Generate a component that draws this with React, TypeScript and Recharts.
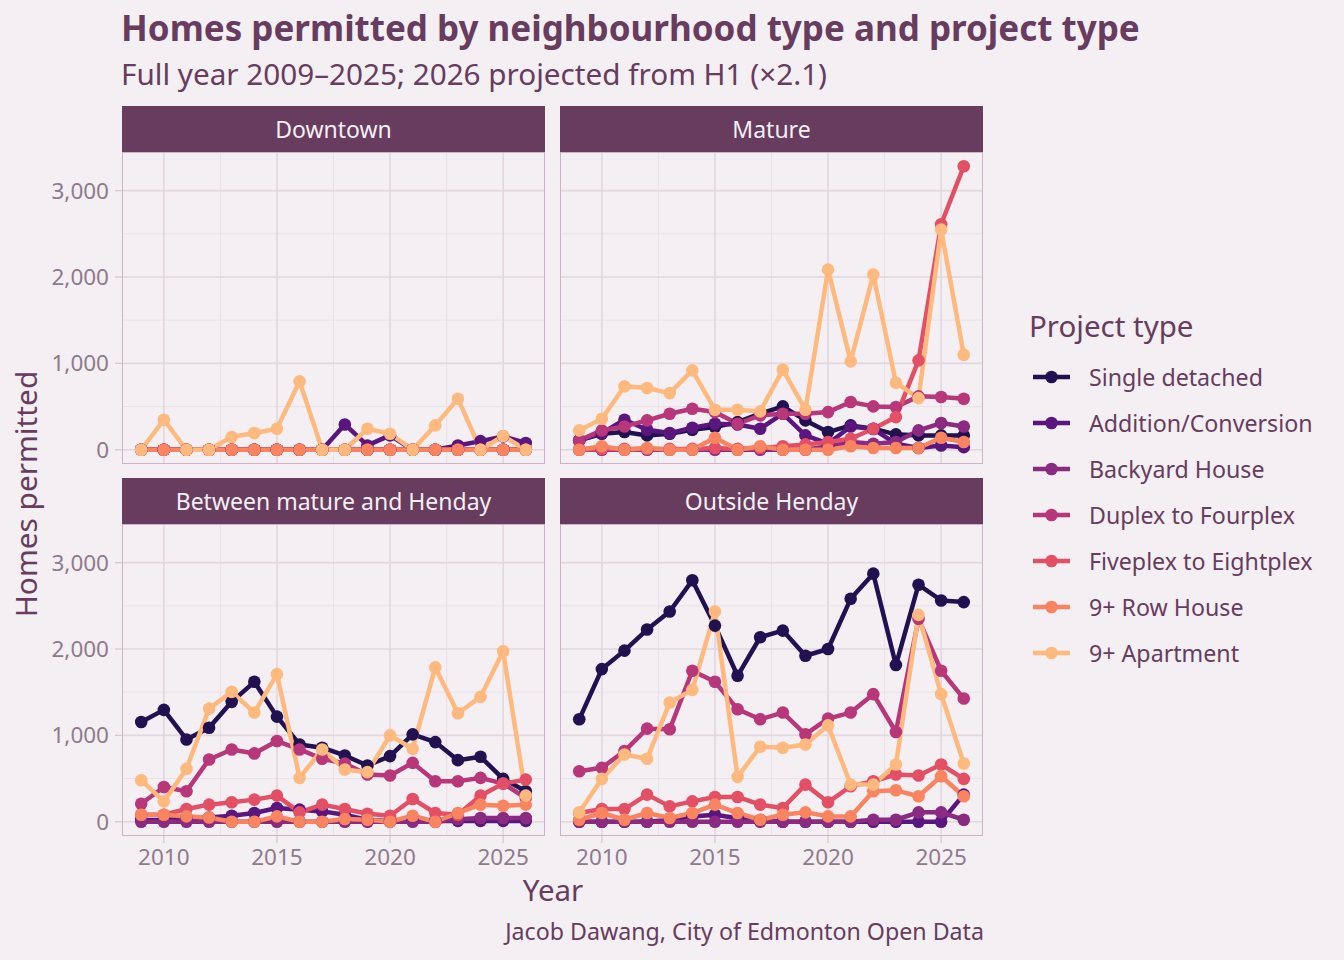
import React from "react";
import { LineChart, Line, XAxis, YAxis, CartesianGrid } from "recharts";

// ---------- data ----------
const years = [2009, 2010, 2011, 2012, 2013, 2014, 2015, 2016, 2017, 2018, 2019, 2020, 2021, 2022, 2023, 2024, 2025, 2026];

const seriesNames = ["Single detached", "Addition/Conversion", "Backyard House", "Duplex to Fourplex", "Fiveplex to Eightplex", "9+ Row House", "9+ Apartment"];
const seriesColors = ["#221150", "#5A167E", "#8A2A80", "#B8377A", "#E34F65", "#F98460", "#FEB97E"];

const panelTitles = ["Downtown", "Mature", "Between mature and Henday", "Outside Henday"];

const xTicks = [2010, 2015, 2020, 2025];
const xMinor = [2012.5, 2017.5, 2022.5];
const yTicks = [0, 1000, 2000, 3000];
const yMinor = [500, 1500, 2500];

// Downtown
const dtSingle = [0, 0, 0, 0, 0, 0, 0, 0, 0, 0, 0, 0, 0, 0, 0, 0, 0, 0];
const dtAddition = [0, 0, 0, 0, 0, 0, 0, 0, 0, 293, 50, 166, 0, 0, 50, 100, 155, 78];
const dtBackyard = [0, 0, 0, 0, 0, 0, 0, 0, 0, 0, 0, 0, 0, 0, 0, 0, 0, 0];
const dtDuplex = [0, 0, 0, 0, 0, 0, 0, 0, 0, 0, 0, 0, 0, 0, 0, 0, 0, 0];
const dtFiveplex = [0, 0, 0, 0, 0, 0, 0, 0, 0, 0, 0, 0, 0, 0, 0, 0, 0, 0];
const dtRow = [0, 0, 0, 0, 0, 0, 0, 0, 0, 0, 0, 0, 0, 0, 0, 0, 0, 0];
const dtApartment = [0, 347, 0, 0, 147, 193, 243, 792, 0, 0, 243, 185, 0, 282, 591, 0, 159, 0];

// Mature
const maSingle = [108, 185, 205, 166, 185, 232, 263, 320, 417, 502, 340, 205, 282, 243, 178, 166, 166, 166];
const maAddition = [108, 193, 347, 232, 193, 255, 301, 293, 243, 417, 166, 70, 270, 240, 70, 20, 50, 30];
const maBackyard = [0, 0, 0, 0, 0, 0, 0, 0, 0, 0, 0, 40, 89, 70, 89, 224, 309, 270];
const maDuplex = [108, 224, 270, 340, 417, 475, 436, 301, 398, 417, 417, 436, 552, 502, 494, 618, 610, 591];
const maFiveplex = [0, 10, 10, 10, 10, 10, 20, 10, 20, 40, 62, 89, 127, 243, 378, 1035, 2610, 3282];
const maRow = [0, 40, 0, 20, 0, 0, 139, 0, 40, 0, 0, 0, 40, 20, 20, 20, 139, 89];
const maApartment = [224, 359, 734, 714, 656, 919, 463, 463, 444, 927, 463, 2085, 1023, 2027, 776, 598, 2548, 1100];

// Between mature and Henday
const bmSingle = [1155, 1295, 953, 1089, 1388, 1620, 1217, 895, 857, 767, 651, 760, 1012, 922, 713, 752, 496, 353];
const bmAddition = [20, 20, 43, 50, 70, 101, 159, 140, 120, 81, 20, 10, 10, 10, 10, 10, 10, 10];
const bmBackyard = [0, 0, 0, 0, 0, 0, 0, 0, 0, 0, 0, 0, 0, 0, 30, 43, 43, 43];
const bmDuplex = [209, 403, 353, 721, 837, 791, 934, 837, 729, 674, 547, 535, 682, 469, 469, 508, 442, 275];
const bmFiveplex = [81, 81, 147, 198, 225, 256, 302, 109, 198, 147, 93, 70, 264, 101, 81, 302, 442, 488];
const bmRow = [81, 81, 62, 50, 0, 0, 62, 0, 0, 31, 23, 0, 70, 0, 101, 198, 186, 198];
const bmApartment = [481, 236, 612, 1310, 1504, 1264, 1709, 508, 837, 605, 574, 1000, 845, 1787, 1256, 1446, 1973, 302];

// Outside Henday
const ohSingle = [1186, 1767, 1981, 2225, 2434, 2795, 2271, 1690, 2136, 2213, 1922, 2000, 2581, 2872, 1814, 2744, 2562, 2543];
const ohAddition = [0, 0, 0, 0, 20, 62, 81, 40, 20, 0, 0, 0, 0, 0, 0, 0, 0, 314];
const ohBackyard = [0, 0, 0, 0, 0, 0, 0, 0, 0, 0, 0, 0, 0, 23, 23, 109, 109, 23];
const ohDuplex = [585, 624, 818, 1078, 1070, 1748, 1620, 1302, 1186, 1264, 1012, 1194, 1264, 1477, 1039, 2349, 1748, 1426];
const ohFiveplex = [101, 147, 147, 314, 178, 236, 287, 287, 198, 159, 430, 225, 411, 469, 547, 535, 663, 496];
const ohRow = [23, 101, 23, 101, 43, 101, 198, 101, 23, 81, 109, 62, 62, 353, 364, 295, 527, 295];
const ohApartment = [109, 496, 779, 729, 1380, 1527, 2434, 519, 868, 857, 895, 1116, 430, 430, 663, 2395, 1477, 674];

const panelSeries = [
  [dtSingle, dtAddition, dtBackyard, dtDuplex, dtFiveplex, dtRow, dtApartment],
  [maSingle, maAddition, maBackyard, maDuplex, maFiveplex, maRow, maApartment],
  [bmSingle, bmAddition, bmBackyard, bmDuplex, bmFiveplex, bmRow, bmApartment],
  [ohSingle, ohAddition, ohBackyard, ohDuplex, ohFiveplex, ohRow, ohApartment],
];

const buildRows = (series: number[][]) =>
  years.map((y, i) => {
    const row: Record<string, number> = { year: y };
    series.forEach((s, k) => {
      row["s" + k] = s[i];
    });
    return row;
  });

// ---------- style ----------
const BG = "#F4EFF3";
const INK = "#673C5E";
const TICK = "#8E7A8C";
const FONT = "'Noto Sans', sans-serif";
const X_DOMAIN: [number, number] = [2008.15, 2026.85];
const Y_DOMAIN: [number, number] = [-165, 3447];

const fmt = (v: number) => v.toLocaleString("en-US");

type PanelProps = {
  idx: number;
  left: number;
  top: number;
  showX: boolean;
  showY: boolean;
};

const PLOT_W = 423;
const PLOT_H = 312;
const Y_AXIS_W = 122;
const X_AXIS_H = 50;

function Panel({ idx, left, top, showX, showY }: PanelProps) {
  const data = buildRows(panelSeries[idx]);
  const width = PLOT_W + (showY ? Y_AXIS_W : 0);
  const height = PLOT_H + (showX ? X_AXIS_H : 0);
  const plotLeft = left + (showY ? Y_AXIS_W : 0);
  return (
    <>
      <div
        style={{
          position: "absolute",
          left: plotLeft,
          top: top - 46,
          width: PLOT_W,
          height: 46,
          background: INK,
          color: "#F4EFF3",
          fontFamily: FONT,
          fontSize: 23,
          lineHeight: "46px",
          textAlign: "center",
          whiteSpace: "nowrap",
        }}
      >
        {panelTitles[idx]}
      </div>
      <div style={{ position: "absolute", left, top }}>
        <LineChart width={width} height={height} data={data} margin={{ top: 0, right: 0, bottom: 0, left: 0 }}>
          <XAxis
            dataKey="year"
            type="number"
            domain={X_DOMAIN}
            ticks={xTicks}
            allowDataOverflow
            hide={!showX}
            height={X_AXIS_H}
            axisLine={false}
            tickSize={7}
            tickMargin={6}
            tickLine={{ stroke: "#D6C8D3", strokeWidth: 1.3 }}
            tick={{ fill: TICK, fontSize: 22.5, fontFamily: FONT }}
          />
          <YAxis
            type="number"
            domain={Y_DOMAIN}
            ticks={yTicks}
            allowDataOverflow
            hide={!showY}
            width={Y_AXIS_W}
            axisLine={false}
            tickSize={7}
            tickMargin={6}
            tickFormatter={fmt}
            tickLine={{ stroke: "#D6C8D3", strokeWidth: 1.3 }}
            tick={{ fill: TICK, fontSize: 22.5, fontFamily: FONT }}
          />
          <CartesianGrid
            stroke="#EAE1E8"
            strokeWidth={1}
            horizontalValues={yMinor}
            verticalValues={xMinor}
          />
          <CartesianGrid
            stroke="#E2D6DF"
            strokeWidth={1.6}
            horizontalValues={yTicks}
            verticalValues={xTicks}
          />
          {seriesNames.map((name, k) => (
            <Line
              key={"l" + k}
              dataKey={"s" + k}
              name={name}
              stroke={seriesColors[k]}
              strokeWidth={4.5}
              dot={false}
              activeDot={false}
              isAnimationActive={false}
              strokeLinejoin="round"
            />
          ))}
          {seriesNames.map((name, k) => (
            <Line
              key={"d" + k}
              dataKey={"s" + k}
              name={name + " points"}
              stroke="none"
              legendType="none"
              dot={{ r: 6.3, fill: seriesColors[k], stroke: "none", strokeWidth: 0 }}
              activeDot={false}
              isAnimationActive={false}
            />
          ))}
        </LineChart>
      </div>
      <div
        style={{
          position: "absolute",
          left: plotLeft,
          top,
          width: PLOT_W,
          height: PLOT_H,
          boxSizing: "border-box",
          border: "1px solid #CDB3CA",
          pointerEvents: "none",
        }}
      />
    </>
  );
}

function LegendBox() {
  return (
    <div style={{ position: "absolute", left: 1029, top: 305, fontFamily: FONT, color: INK }}>
      <div style={{ fontSize: 29.5, lineHeight: "42px", height: 48, whiteSpace: "nowrap" }}>Project type</div>
      {seriesNames.map((name, k) => (
        <div key={name} style={{ position: "absolute", left: 0, top: 52 + k * 46, height: 40, display: "flex", alignItems: "center" }}>
          <svg width={44} height={20} style={{ display: "block" }}>
            <line x1={4} y1={10} x2={41} y2={10} stroke={seriesColors[k]} strokeWidth={4.5} />
            <circle cx={22.5} cy={10} r={6.3} fill={seriesColors[k]} />
          </svg>
          <span style={{ marginLeft: 16, fontSize: 23.2, whiteSpace: "nowrap" }}>{name}</span>
        </div>
      ))}
    </div>
  );
}

export default function App() {
  return (
    <div
      style={{
        position: "absolute",
        left: 0,
        top: 0,
        width: 1344,
        height: 960,
        background: BG,
        overflow: "hidden",
        fontFamily: FONT,
        color: INK,
      }}
    >
      <div style={{ position: "absolute", left: 121, top: 6, fontSize: 35, fontWeight: 700, lineHeight: "44px", whiteSpace: "nowrap" }}>
        Homes permitted by neighbourhood type and project type
      </div>
      <div style={{ position: "absolute", left: 121, top: 54, fontSize: 29.7, lineHeight: "40px", whiteSpace: "nowrap" }}>
        Full year 2009–2025; 2026 projected from H1 (×2.1)
      </div>

      <Panel idx={0} left={0} top={152} showX={false} showY={true} />
      <Panel idx={1} left={560} top={152} showX={false} showY={false} />
      <Panel idx={2} left={0} top={524} showX={true} showY={true} />
      <Panel idx={3} left={560} top={524} showX={true} showY={false} />

      <div style={{ position: "absolute", left: 122, width: 862, top: 870, fontSize: 29.5, lineHeight: "40px", textAlign: "center" }}>
        Year
      </div>
      <div
        style={{
          position: "absolute",
          left: 26 - 150,
          top: 494 - 20,
          width: 300,
          height: 40,
          fontSize: 29.8,
          lineHeight: "40px",
          textAlign: "center",
          transform: "rotate(-90deg)",
          whiteSpace: "nowrap",
        }}
      >
        Homes permitted
      </div>
      <div style={{ position: "absolute", right: 1344 - 984, top: 915, fontSize: 23.2, lineHeight: "32px", whiteSpace: "nowrap" }}>
        Jacob Dawang, City of Edmonton Open Data
      </div>

      <LegendBox />
    </div>
  );
}
